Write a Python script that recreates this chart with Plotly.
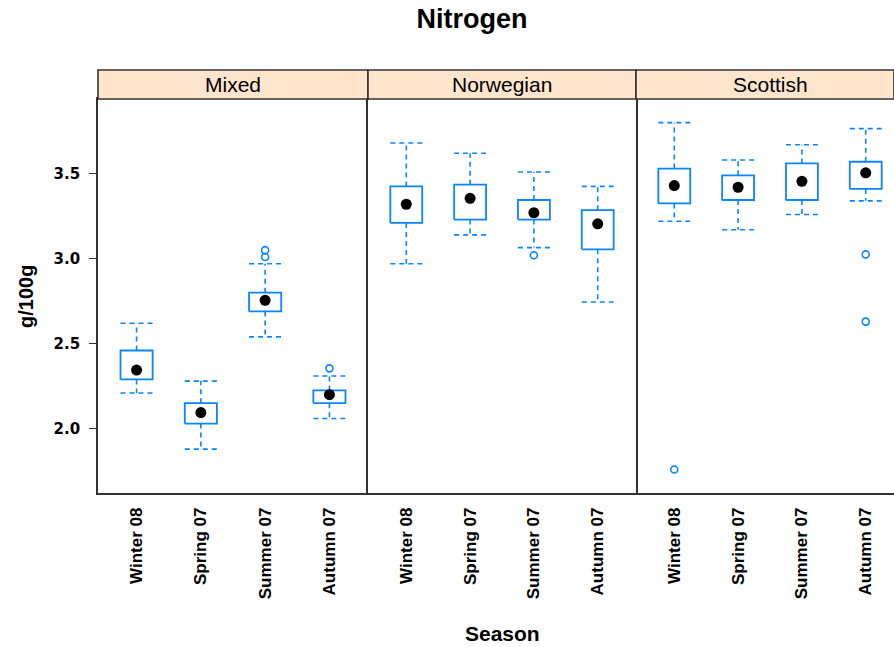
import plotly.graph_objects as go

# Seasons on the x axis and the three panel groups
seasons = ["Winter 08", "Spring 07", "Summer 07", "Autumn 07"]
groups = ["Mixed", "Norwegian", "Scottish"]

# Box-and-whisker statistics (g/100g), one list per group in season order
whisker_low = {
    "Mixed": [2.21, 1.88, 2.54, 2.06],
    "Norwegian": [2.97, 3.14, 3.065, 2.745],
    "Scottish": [3.22, 3.17, 3.26, 3.34],
}
quartile_1 = {
    "Mixed": [2.29, 2.03, 2.69, 2.15],
    "Norwegian": [3.21, 3.23, 3.23, 3.055],
    "Scottish": [3.325, 3.345, 3.345, 3.41],
}
median = {
    "Mixed": [2.345, 2.095, 2.755, 2.20],
    "Norwegian": [3.32, 3.355, 3.27, 3.205],
    "Scottish": [3.43, 3.42, 3.455, 3.505],
}
quartile_3 = {
    "Mixed": [2.46, 2.15, 2.80, 2.225],
    "Norwegian": [3.425, 3.435, 3.345, 3.285],
    "Scottish": [3.53, 3.49, 3.56, 3.57],
}
whisker_high = {
    "Mixed": [2.62, 2.28, 2.97, 2.31],
    "Norwegian": [3.68, 3.62, 3.51, 3.425],
    "Scottish": [3.80, 3.58, 3.67, 3.765],
}
outliers = {
    "Mixed": [[], [], [3.01, 3.05], [2.355]],
    "Norwegian": [[], [], [3.02], []],
    "Scottish": [[1.76], [], [], [3.025, 2.63]],
}

y_ticks = [2.0, 2.5, 3.0, 3.5]

BLUE = "#0a84ff"
FRAME = "#333333"
STRIP = "#ffe5cc"
HALF = 0.25  # half box width in category units

fig = go.Figure()
axis_pairs = [("x", "y"), ("x2", "y2"), ("x3", "y3")]

for gi, g in enumerate(groups):
    xa, ya = axis_pairs[gi]
    for si in range(len(seasons)):
        c = si + 1
        lo, q1, md, q3, hi = (whisker_low[g][si], quartile_1[g][si], median[g][si],
                              quartile_3[g][si], whisker_high[g][si])
        # dashed whiskers and caps
        fig.add_trace(go.Scatter(
            x=[c, c, None, c, c, None, c - HALF, c + HALF, None, c - HALF, c + HALF],
            y=[q3, hi, None, q1, lo, None, hi, hi, None, lo, lo],
            mode="lines", line=dict(color=BLUE, width=1.6, dash="5px,4px"),
            xaxis=xa, yaxis=ya, hoverinfo="skip", showlegend=False))
        # box
        fig.add_trace(go.Scatter(
            x=[c - HALF, c + HALF, c + HALF, c - HALF, c - HALF],
            y=[q1, q1, q3, q3, q1],
            mode="lines", line=dict(color=BLUE, width=1.8),
            xaxis=xa, yaxis=ya, hoverinfo="skip", showlegend=False))
        # outliers
        if outliers[g][si]:
            fig.add_trace(go.Scatter(
                x=[c] * len(outliers[g][si]), y=outliers[g][si], mode="markers",
                marker=dict(symbol="circle-open", size=7, color=BLUE,
                            line=dict(width=1.6, color=BLUE)),
                xaxis=xa, yaxis=ya, showlegend=False))
        # median dot
        fig.add_trace(go.Scatter(
            x=[c], y=[md], mode="markers",
            marker=dict(symbol="circle", size=11, color="black"),
            xaxis=xa, yaxis=ya, showlegend=False))

# panel layout (paper fractions of the plotting area)
d1, d2 = 270 / 796, 538 / 796
x_domains = [[0, d1], [d1, d2], [d2, 1]]
x_ranges = [[0.4, 4.6], [0.4, 4.6], [0.4, 4.443]]
y_range = [1.622, 3.939]

tick_font = dict(family="Liberation Sans", size=17, color="black", weight="bold")
for i in range(3):
    key = "xaxis" if i == 0 else f"xaxis{i + 1}"
    fig.layout[key] = dict(
        domain=x_domains[i], range=x_ranges[i], anchor="y" if i == 0 else f"y{i + 1}",
        tickvals=[1, 2, 3, 4], ticktext=seasons, tickangle=-90, tickfont=tick_font,
        ticks="", ticklabelstandoff=6, showgrid=False, zeroline=False,
        showline=True, mirror=True, linecolor=FRAME, linewidth=1.6, fixedrange=True)

fig.layout["yaxis"] = dict(
    domain=[0, 1], range=y_range, anchor="x", tickvals=y_ticks,
    ticktext=[f"{v:.1f}" for v in y_ticks],
    tickfont=dict(family="DejaVu Sans", size=15, color="black", weight="bold"),
    ticks="outside", ticklen=7, tickwidth=1.3, tickcolor=FRAME, ticklabelstandoff=6,
    showgrid=False, zeroline=False, showline=True, mirror=False,
    linecolor=FRAME, linewidth=1.6)
fig.layout["yaxis2"] = dict(
    domain=[0, 1], range=y_range, anchor="x2", matches="y", showticklabels=False,
    ticks="", showgrid=False, zeroline=False, showline=True, mirror=True,
    linecolor=FRAME, linewidth=1.6)
fig.layout["yaxis3"] = dict(
    domain=[0, 1], range=y_range, anchor="x3", matches="y", showticklabels=False,
    ticks="", showgrid=False, zeroline=False, showline=False)

# strips with group names above each panel
strip_top = 1 + 29 / 394
shapes = []
annotations = []
for i, g in enumerate(groups):
    xref = "x" if i == 0 else f"x{i + 1}"
    shapes.append(dict(type="rect", xref=f"{xref} domain", yref="paper",
                       x0=0, x1=1, y0=1, y1=strip_top, fillcolor=STRIP,
                       line=dict(color=FRAME, width=1.6), layer="above"))
    annotations.append(dict(text=g, xref=xref, yref="paper", x=2.5,
                            y=(1 + strip_top) / 2, xanchor="center", yanchor="middle",
                            showarrow=False,
                            font=dict(family="Liberation Sans", size=21, color="black")))

annotations.append(dict(text="Season", xref="paper", yref="paper",
                        x=(502 - 98) / 796, y=-(633 - 493) / 394,
                        xanchor="center", yanchor="middle", showarrow=False,
                        font=dict(family="Liberation Sans", size=21, color="black",
                                  weight="bold")))
annotations.append(dict(text="g/100g", xref="paper", yref="paper",
                        x=(26 - 98) / 796, y=(493 - 297) / 394, textangle=-90,
                        xanchor="center", yanchor="middle", showarrow=False,
                        font=dict(family="Liberation Sans", size=20, color="black",
                                  weight="bold")))

fig.update_layout(
    width=894, height=647, autosize=False,
    margin=dict(l=98, r=0, t=99, b=154, pad=0),
    paper_bgcolor="white", plot_bgcolor="white",
    title=dict(text="Nitrogen", x=472 / 894, xanchor="center", xref="container",
               y=1 - 19 / 647, yanchor="middle", yref="container",
               font=dict(family="Liberation Sans", size=27, color="black",
                         weight="bold")),
    shapes=shapes, annotations=annotations, showlegend=False,
)

fig.write_html("out.html")
